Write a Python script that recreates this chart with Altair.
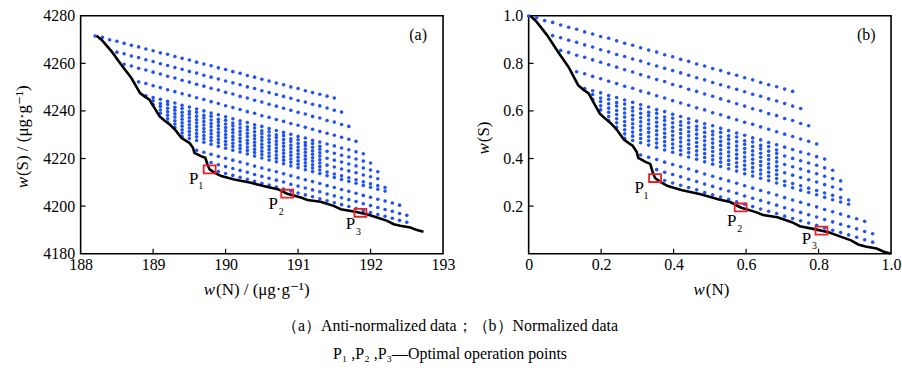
import altair as alt
import pandas as pd

SERIF = "'Liberation Serif', 'Times New Roman', Times, 'DejaVu Serif', serif"
BLUE = "#2152f3"

# ---- column positions of the grid of operating conditions, w(N) in ug/g ----
n_cols = [188.2, 188.3, 188.4, 188.5, 188.6, 188.7, 188.8, 188.9, 189.0, 189.1,
          189.2, 189.3, 189.4, 189.5, 189.6, 189.7, 189.8, 189.9, 190.0, 190.1,
          190.2, 190.3, 190.4, 190.5, 190.6, 190.7, 190.8, 190.9, 191.0, 191.1,
          191.2, 191.3, 191.4, 191.5, 191.6, 191.7, 191.8, 191.9, 192.0, 192.1,
          192.2, 192.3, 192.4, 192.5, 192.6]

# ---- bands of blue points: (first column index, w(S) values) ----
band_b1 = (0, [4271.5, 4270.9, 4269.9, 4269.3, 4268.4, 4267.6, 4266.9, 4266.0, 4265.3, 4264.4,
               4263.8, 4262.9, 4262.1, 4261.4, 4260.5, 4259.7, 4259.0, 4258.1, 4257.4, 4256.5,
               4255.8, 4254.9, 4254.2, 4253.3, 4252.6, 4251.7, 4251.0, 4250.1, 4249.4, 4248.5,
               4247.7, 4247.0, 4246.2, 4245.4])
band_b2 = (3, [4264.7, 4264.0, 4263.1, 4262.4, 4261.5, 4260.8, 4259.8, 4259.1, 4258.2, 4257.5,
               4256.6, 4255.9, 4255.0, 4254.2, 4253.4, 4252.6, 4251.8, 4251.0, 4250.1, 4249.4,
               4248.5, 4247.7, 4246.9, 4246.1, 4245.3, 4244.4, 4243.7, 4242.8, 4242.1, 4241.2,
               4240.3, 4239.5])
band_b3 = (4, [4259.6, 4258.9, 4257.9, 4257.2, 4256.3, 4255.5, 4254.6, 4253.8, 4252.9, 4252.1,
               4251.2, 4250.4, 4249.5, 4248.8, 4247.8, 4247.1, 4246.1, 4245.4, 4244.5, 4243.7,
               4242.8, 4242.0, 4241.1, 4240.3, 4239.4, 4238.7, 4237.7, 4237.0, 4236.0, 4235.3,
               4234.3, 4233.5])
band_b4 = (6, [4252.2, 4251.5, 4250.6, 4249.8, 4248.9, 4248.1, 4247.2, 4246.5, 4245.5, 4244.8,
               4243.9, 4243.1, 4242.2, 4241.4, 4240.6, 4239.7, 4239.0, 4238.0, 4237.3, 4236.4,
               4235.6, 4234.7, 4234.0, 4233.1, 4232.3, 4231.4, 4230.6, 4229.8, 4228.9, 4228.1,
               4227.2])
band_b5 = (7, [4246.4, 4245.6, 4244.9, 4244.0, 4243.3, 4242.4, 4241.6, 4240.8, 4240.0, 4239.1,
               4238.4, 4237.5, 4236.7, 4235.9, 4235.1, 4234.2, 4233.5, 4232.6, 4231.8, 4231.0,
               4230.2, 4229.3, 4228.6, 4227.7, 4226.9, 4226.1, 4225.3, 4224.4, 4223.7, 4222.8,
               4222.0])
band_d1 = (8, [4244.3, 4243.1, 4242.7, 4241.5, 4241.0, 4239.8, 4239.4, 4238.2, 4237.8, 4236.5,
               4236.1, 4234.9, 4234.5, 4233.3, 4232.8, 4231.6, 4231.2, 4230.0, 4229.6, 4228.3,
               4227.9, 4226.7, 4226.3, 4225.1])
band_d2 = (8, [4242.7, 4241.9, 4241.1, 4240.3, 4239.4, 4238.6, 4237.8, 4237.0, 4236.2, 4235.3,
               4234.5, 4233.7, 4232.9, 4232.1, 4231.2, 4230.4, 4229.6, 4228.8, 4228.0, 4227.1,
               4226.3, 4225.5, 4224.7, 4223.9, 4223.0, 4222.2, 4221.4, 4220.6, 4219.8, 4218.9,
               4218.1])
band_d3 = (9, [4240.4, 4239.6, 4238.8, 4237.9, 4237.1, 4236.3, 4235.5, 4234.7, 4233.8, 4233.0,
               4232.2, 4231.4, 4230.6, 4229.7, 4228.9, 4228.1, 4227.3, 4226.5, 4225.6, 4224.8,
               4224.0, 4223.2, 4222.4])
band_d4 = (9, [4239.0, 4238.2, 4237.4, 4236.5, 4235.7, 4234.9, 4234.1, 4233.3, 4232.4, 4231.6,
               4230.8, 4230.0, 4229.2, 4228.3, 4227.5, 4226.7, 4225.9, 4225.1, 4224.2, 4223.4,
               4222.6, 4221.8, 4221.0, 4220.1, 4219.3, 4218.5, 4217.7, 4216.9, 4216.0, 4215.2,
               4214.4])
band_d5 = (10, [4236.7, 4235.9, 4235.0, 4234.2, 4233.4, 4232.6, 4231.8, 4230.9, 4230.1, 4229.3,
                4228.5, 4227.7, 4226.8, 4226.0, 4225.2, 4224.4, 4223.6, 4222.7, 4221.9, 4221.1,
                4220.3, 4219.5])
band_d6 = (10, [4235.3, 4234.5, 4233.6, 4232.8, 4232.0, 4231.2, 4230.4, 4229.5, 4228.7, 4227.9,
                4227.1, 4226.3, 4225.4, 4224.6, 4223.8, 4223.0, 4222.2, 4221.3, 4220.5, 4219.7,
                4218.9, 4218.1, 4217.2, 4216.4, 4215.6, 4214.8, 4214.0, 4213.1, 4212.3, 4211.5])
band_d7 = (11, [4233.0, 4232.1, 4231.3, 4230.5, 4229.7, 4228.9, 4228.0, 4227.2, 4226.4, 4225.6,
                4224.8, 4223.9, 4223.1, 4222.3, 4221.5, 4220.7, 4219.8, 4219.0, 4218.2, 4217.4,
                4216.6])
band_d8 = (12, [4230.7, 4229.9, 4229.1, 4228.3, 4227.5, 4226.6, 4225.8, 4225.0, 4224.2, 4223.4,
                4222.5, 4221.7, 4220.9, 4220.1, 4219.3, 4218.4, 4217.6, 4216.8, 4216.0, 4215.2,
                4214.3, 4213.5, 4212.7, 4211.9, 4211.1, 4210.2, 4209.4, 4208.6, 4207.8])
band_d9 = (12, [4229.2, 4228.4, 4227.6, 4226.8, 4226.0, 4225.1, 4224.3, 4223.5, 4222.7, 4221.9,
                4221.0, 4220.2, 4219.4, 4218.6, 4217.8, 4216.9, 4216.1, 4215.3, 4214.5, 4213.7,
                4212.8, 4212.0, 4211.2, 4210.4, 4209.6, 4208.7, 4207.9, 4207.1, 4206.3])
band_l3 = (14, [4223.4, 4222.6, 4221.8, 4220.9, 4220.1, 4219.3, 4218.5, 4217.7, 4216.8, 4216.0,
                4215.2, 4214.4, 4213.6, 4212.7, 4211.9, 4211.1, 4210.3, 4209.5, 4208.6, 4207.8,
                4207.0, 4206.2, 4205.4, 4204.5, 4203.7, 4202.9, 4202.1, 4201.3, 4200.4])
band_l2 = (16, [4218.3, 4217.4, 4216.6, 4215.8, 4215.0, 4214.2, 4213.3, 4212.5, 4211.7, 4210.9,
                4210.1, 4209.2, 4208.4, 4207.6, 4206.8, 4206.0, 4205.1, 4204.3, 4203.5, 4202.7,
                4201.9, 4201.0, 4200.2, 4199.4, 4198.6, 4197.8, 4196.9, 4196.1])
band_l1 = (17, [4214.5, 4213.7, 4212.9, 4212.1, 4211.3, 4210.4, 4209.6, 4208.8, 4208.0, 4207.2,
                4206.3, 4205.5, 4204.7, 4203.9, 4203.1, 4202.2, 4201.4, 4200.6, 4199.8, 4199.0,
                4198.1, 4197.3, 4196.5, 4195.7, 4194.9, 4194.0, 4193.2])

bands = [band_b1, band_b2, band_b3, band_b4, band_b5, band_d1, band_d2, band_d3, band_d4,
         band_d5, band_d6, band_d7, band_d8, band_d9, band_l3, band_l2, band_l1]

# ---- Pareto front (black line) ----
curve_n = [188.22, 188.29, 188.43, 188.56, 188.70, 188.82, 188.88, 188.95, 189.02, 189.09,
           189.16, 189.23, 189.30, 189.39, 189.46, 189.50, 189.55, 189.57, 189.66, 189.72,
           189.75, 189.78, 189.85, 189.94, 190.12, 190.35, 190.58, 190.72, 190.85, 191.04,
           191.13, 191.31, 191.49, 191.59, 191.77, 191.95, 192.09, 192.23, 192.32, 192.41,
           192.55, 192.64, 192.73]
curve_s = [4271.6, 4269.8, 4264.9, 4259.4, 4253.8, 4247.5, 4246.1, 4244.7, 4241.2, 4237.7,
           4235.9, 4234.3, 4232.2, 4228.7, 4227.3, 4226.6, 4224.5, 4222.4, 4221.0, 4220.3,
           4217.5, 4215.4, 4214.0, 4212.6, 4211.2, 4209.8, 4208.0, 4207.1, 4205.2, 4203.6,
           4202.6, 4201.8, 4200.1, 4198.7, 4197.7, 4196.6, 4195.2, 4193.8, 4192.4, 4191.7,
           4191.0, 4189.9, 4189.2]

# ---- optimal operation points ----
opt_sub = ["1", "2", "3"]
opt_n = [189.78, 190.85, 191.86]
opt_s = [4215.4, 4205.2, 4197.2]

caption_1 = "（a）Anti-normalized data；（b）Normalized data"
caption_2 = "P₁ ,P₂ ,P₃—Optimal operation points"

# ---- tables ----
rows = []
for start, ys in bands:
    for k, y in enumerate(ys):
        rows.append({"n": n_cols[start + k], "s": y})
dots_a = pd.DataFrame(rows)
curve_a = pd.DataFrame({"n": curve_n, "s": curve_s, "i": list(range(len(curve_n)))})
opt_a = pd.DataFrame({"n": opt_n, "s": opt_s, "sub": opt_sub})

n_min = min(dots_a["n"].min(), curve_a["n"].min())
n_max = max(dots_a["n"].max(), curve_a["n"].max())
s_min = min(dots_a["s"].min(), curve_a["s"].min())
s_max = max(dots_a["s"].max(), curve_a["s"].max())


def normalize(df):
    out = df.copy()
    out["n"] = (df["n"] - n_min) / (n_max - n_min)
    out["s"] = (df["s"] - s_min) / (s_max - s_min)
    return out


dots_b, curve_b, opt_b = normalize(dots_a), normalize(curve_a), normalize(opt_a)

W, H = 364, 239
RECT = "M-1,-0.667L1,-0.667L1,0.667L-1,0.667Z"


def text_layer(s, x, y, size=15, align="center", angle=0, italic=False):
    kw = dict(align=align, baseline="middle", font=SERIF, fontSize=size, color="black")
    if angle:
        kw["angle"] = angle
    if italic:
        kw["fontStyle"] = "italic"
    return alt.Chart(pd.DataFrame({"t": [s]})).mark_text(**kw).encode(
        x=alt.value(x), y=alt.value(y), text="t:N")


def panel(dots, curve, opt, xdom, ydom, xvals, yvals, xticks, yticks, xfmt, yfmt,
          tag, x_rest, x_anchor, y_rest, y_x, y_anchor, p_offsets, extra=()):
    xs = alt.Scale(domain=xdom, nice=False, zero=False)
    ys = alt.Scale(domain=ydom, nice=False, zero=False)
    common = dict(ticks=False, tickSize=0, domain=False, grid=False, labelFont=SERIF,
                  labelFontSize=16, labelColor="black", title=None, labelFlush=False,
                  labelOverlap=False)
    ax = alt.Axis(values=xvals, labelPadding=3, **xfmt, **common)
    ay = alt.Axis(values=yvals, labelPadding=6, **yfmt, **common)

    def X(f):
        return alt.X(f"{f}:Q", scale=xs, axis=ax)

    def Y(f):
        return alt.Y(f"{f}:Q", scale=ys, axis=ay)

    layers = [
        alt.Chart(dots).mark_circle(size=13, color=BLUE, opacity=1).encode(x=X("n"), y=Y("s")),
        alt.Chart(curve).mark_line(color="black", strokeWidth=2.6).encode(
            x=X("n"), y=Y("s"), order="i:Q"),
        alt.Chart(opt).mark_point(shape=RECT, size=144, filled=False, color="#e8202a",
                                  strokeWidth=1.8, opacity=1).encode(x=X("n"), y=Y("s")),
        alt.Chart(pd.DataFrame({"v": xticks})).mark_rule(color="black", strokeWidth=1.2).encode(
            x=X("v"), y=alt.value(H), y2=alt.value(H - 5)),
        alt.Chart(pd.DataFrame({"v": yticks})).mark_rule(color="black", strokeWidth=1.2).encode(
            y=Y("v"), x=alt.value(0), x2=alt.value(5)),
    ]
    for j, (dx, dy, sdx, sdy) in enumerate(p_offsets):
        row = opt.iloc[[j]]
        layers.append(alt.Chart(row).mark_text(text="P", dx=dx, dy=dy, font=SERIF, fontSize=17,
                                               color="black", baseline="middle").encode(
            x=X("n"), y=Y("s")))
        layers.append(alt.Chart(row).mark_text(dx=sdx, dy=sdy, font=SERIF, fontSize=10,
                                               color="black", baseline="middle").encode(
            x=X("n"), y=Y("s"), text="sub:N"))
    layers.append(text_layer(tag, 339, 19, size=16))
    layers.append(text_layer("w", x_anchor, 276, size=17, align="right", italic=True))
    layers.append(text_layer(x_rest, x_anchor + 1, 276, size=17, align="left"))
    layers.append(text_layer("w", y_x, y_anchor, size=17, align="right", angle=270, italic=True))
    layers.append(text_layer(y_rest, y_x, y_anchor - 1, size=17, align="left", angle=270))
    layers.extend(extra)
    return alt.layer(*layers).properties(width=W, height=H)


captions = [text_layer(caption_1, 371, 312, size=16), text_layer(caption_2, 371, 340, size=16)]

left = panel(dots_a, curve_a, opt_a, [188, 193], [4180, 4280],
             [188, 189, 190, 191, 192, 193], [4180, 4200, 4220, 4240, 4260, 4280],
             [189, 190, 191, 192], [4200, 4220, 4240, 4260],
             dict(format="d"), dict(format="d"),
             "(a)", "(N) / (μg·g⁻¹)", 135, "(S) / (μg·g⁻¹)", -58, 162,
             [(-16, 10, -9, 17), (-14, 10, -6, 18), (-10, 11, -2, 19)], extra=captions)

right = panel(dots_b, curve_b, opt_b, [0, 1], [0, 1],
              [0, 0.2, 0.4, 0.6, 0.8, 1.0], [0.2, 0.4, 0.6, 0.8, 1.0],
              [0.2, 0.4, 0.6, 0.8], [0.2, 0.4, 0.6, 0.8],
              dict(labelExpr="datum.value == 0 ? '0' : format(datum.value, '.1f')"),
              dict(format=".1f"),
              "(b)", "(N)", 177, "(S)", -45, 128,
              [(-16, 10, -9, 18), (-9, 14, -1, 22), (-15, 8, -7, 16)])

chart = alt.hconcat(left, right, spacing=86, bounds="flush").configure_view(
    stroke="black", strokeWidth=1.6
).properties(padding={"left": 13, "top": 6, "right": 0, "bottom": 0}, background="white")

chart.save("out.html", embed_options={"renderer": "svg", "actions": False})
